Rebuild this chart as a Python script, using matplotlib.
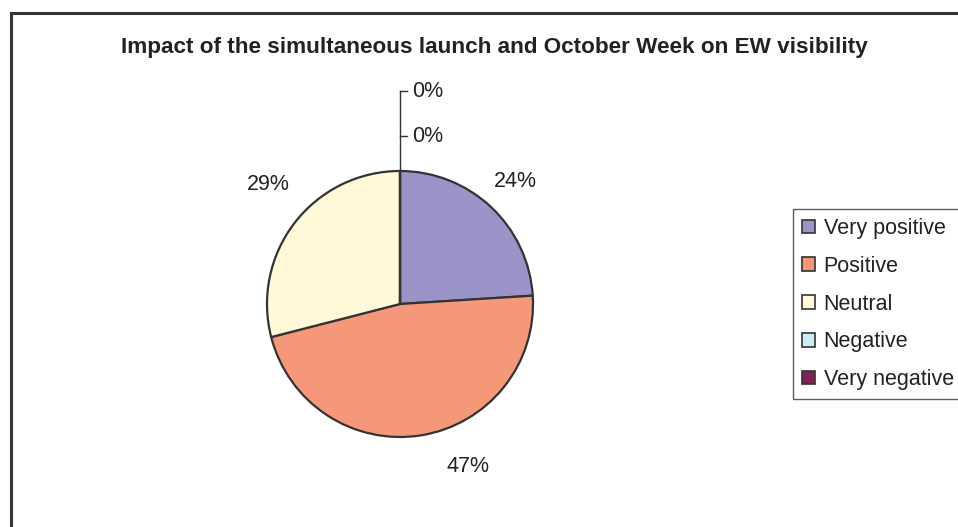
import matplotlib
matplotlib.use("Agg")
import matplotlib.pyplot as plt
import matplotlib.patches as mpatches
import numpy as np

plt.rcParams['font.family'] = ['Liberation Sans', 'DejaVu Sans']

title = "Impact of the simultaneous launch and October Week on EW visibility"
categories = ["Very positive", "Positive", "Neutral", "Negative", "Very negative"]
values = [24, 47, 29, 0, 0]
labels = ["24%", "47%", "29%", "0%", "0%"]
colors = ["#9A94C8", "#F5987A", "#FFF9D9", "#CDEBF7", "#7E2358"]

W, H = 958, 527
fig = plt.figure(figsize=(W / 100, H / 100), dpi=100)

# outer chart border (cropped at right and bottom)
fig.patches.append(mpatches.Rectangle((11 / W, -0.2), 1.2, 1 - 13 / H + 0.2,
                                      transform=fig.transFigure, fill=False,
                                      edgecolor="#333333", linewidth=2.2))

fig.text(494 / W, 1 - 48 / H, title, ha="center", va="center",
         fontsize=16.2, fontweight="bold", color="#222222")

cx, cy, R = 400, 304, 133
ax = fig.add_axes([(cx - R) / W, (H - cy - R) / H, 2 * R / W, 2 * R / H])
wedges, _ = ax.pie(values, colors=colors, startangle=90, counterclock=False,
                   radius=1.0,
                   wedgeprops=dict(edgecolor="#333333", linewidth=1.6))
ax.set_xlim(-1, 1)
ax.set_ylim(-1, 1)
ax.axis("off")

# label positions (fractions of radius)
label_pos = [(0.87, 0.92), (0.51, -1.22), (-0.99, 0.90), (0.21, 1.60), (0.21, 1.26)]
for lab, (lx, ly) in zip(labels, label_pos):
    ax.text(lx, ly, lab, ha="center", va="center", fontsize=15.5,
            color="#222222", clip_on=False)

# leader lines for zero slices
ax.plot([0, 0], [1.0, 1.60], color="#333333", lw=1.0, clip_on=False)
ax.plot([0, 0.055], [1.60, 1.60], color="#333333", lw=1.0, clip_on=False)
ax.plot([0, 0.055], [1.26, 1.26], color="#333333", lw=1.0, clip_on=False)

handles = [mpatches.Patch(facecolor=c, edgecolor="#333333", linewidth=1.2) for c in colors]
leg = fig.legend(handles, categories, loc="upper left",
                 bbox_to_anchor=(793 / W, 1 - 209 / H),
                 fontsize=15.5, frameon=True, fancybox=False,
                 edgecolor="#333333", handlelength=0.6, handleheight=0.6,
                 handletextpad=0.4, labelspacing=0.78, borderpad=0.42,
                 borderaxespad=0)
leg.get_frame().set_linewidth(1.0)
for t in leg.get_texts():
    t.set_color("#222222")

fig.savefig("out.png", dpi=100)
